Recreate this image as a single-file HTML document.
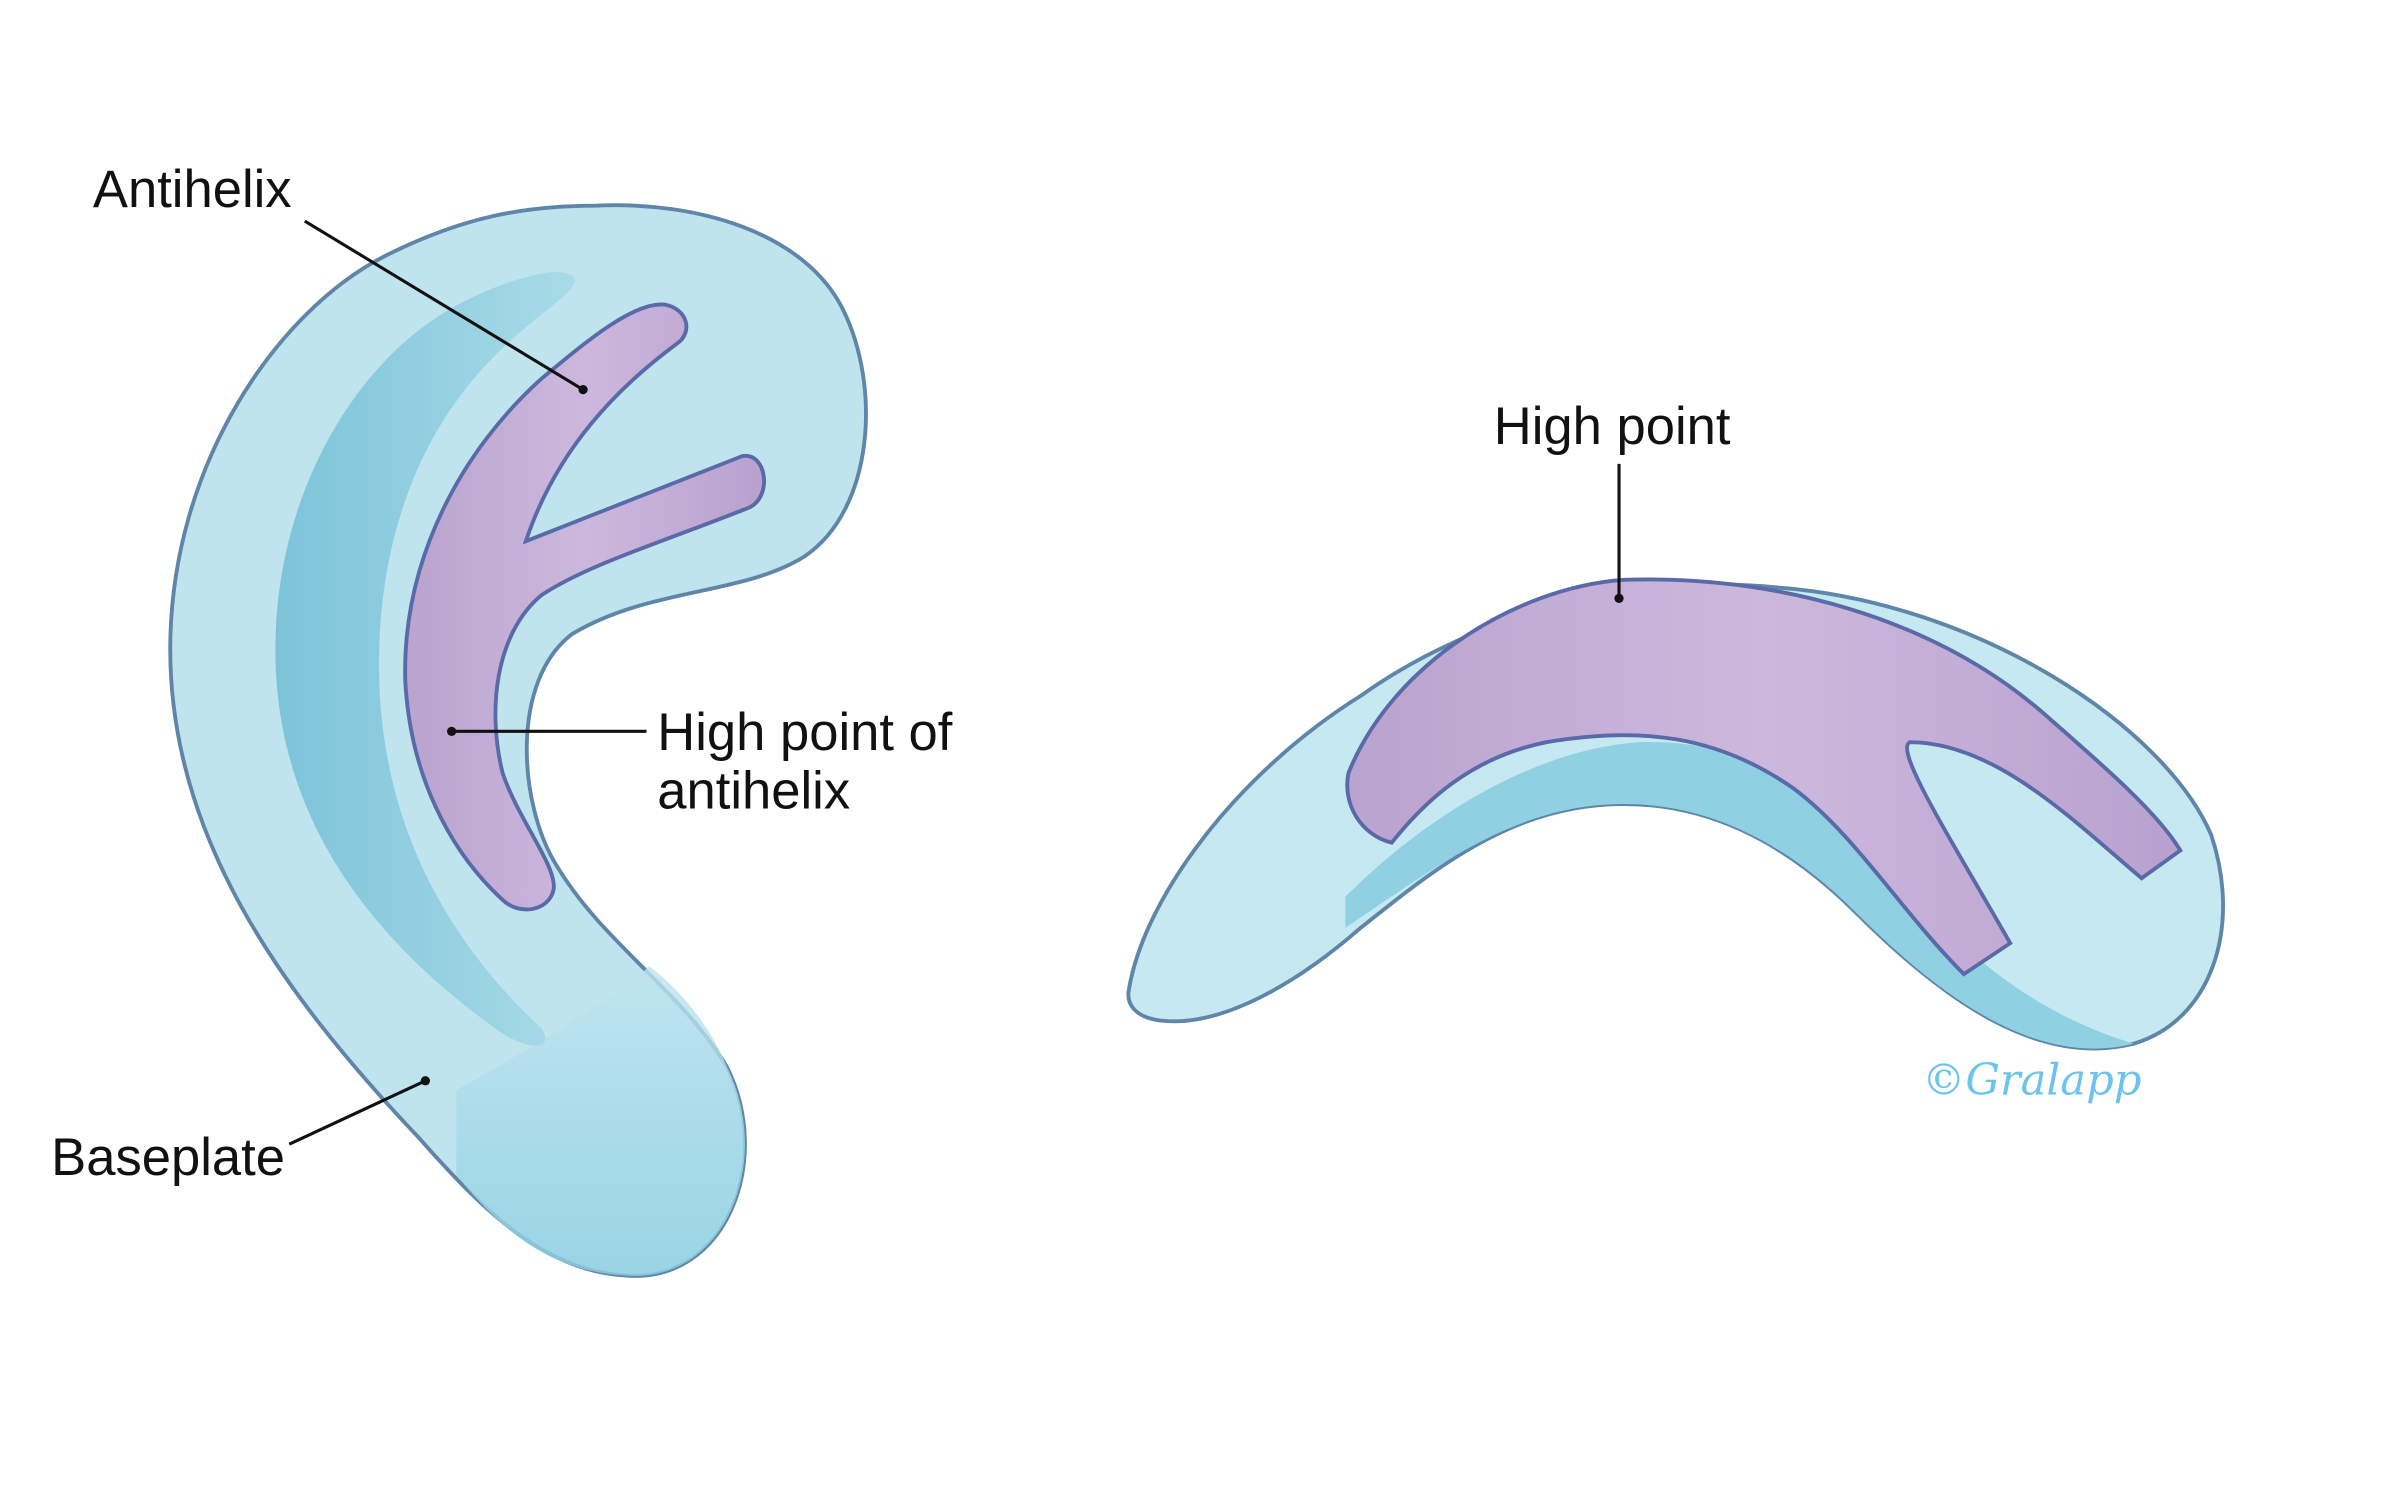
<!DOCTYPE html>
<html><head><style>html,body{margin:0;padding:0;background:#fff}svg{display:block}</style></head>
<body>
<svg width="2400" height="1506" viewBox="0 0 1552 974" xmlns="http://www.w3.org/2000/svg">
<defs>
<linearGradient id="lobe" x1="0" y1="0" x2="0" y2="1"><stop offset="0" stop-color="#bfe5ef"/><stop offset="1" stop-color="#8fd0e2"/></linearGradient>
<linearGradient id="groove" x1="0" y1="0" x2="1" y2="0"><stop offset="0" stop-color="#7cc3d9"/><stop offset="1" stop-color="#a9dbe8"/></linearGradient>
<linearGradient id="pur" x1="0" y1="0" x2="1" y2="0"><stop offset="0" stop-color="#b9a3cf"/><stop offset="0.5" stop-color="#cdb8dd"/><stop offset="1" stop-color="#b8a1cf"/></linearGradient>
</defs>
<g font-family="Liberation Sans, sans-serif" font-size="34" fill="#111">
<path d="M385 133 C450 130 520 150 545 200 C570 250 565 330 520 360 C480 385 420 380 370 410 C330 440 335 520 360 560 C390 610 440 640 470 690 C500 750 470 830 405 825 C350 822 310 780 270 735 C180 640 110 540 110 420 C110 300 180 200 250 165 C300 140 340 133 385 133 Z" fill="#bfe4ee" stroke="#5f86a8" stroke-width="2.5"/>
<path d="M295 705 C340 680 390 650 420 625 C440 640 460 665 470 690 C500 750 470 830 405 825 C350 822 320 790 295 760 Z" fill="url(#lobe)" opacity="0.8"/>
<path d="M370 178 C380 185 350 200 320 230 C270 280 245 350 245 430 C245 520 280 600 350 665 C360 680 340 680 320 665 C230 600 178 520 178 420 C178 320 230 230 300 195 C330 180 360 172 370 178 Z" fill="url(#groove)"/>
<path d="M430 197 C445 200 448 215 438 222 C400 250 360 290 340 350 L480 295 C495 292 500 320 485 328 C430 350 380 365 350 385 C320 410 315 460 325 500 C335 530 360 560 358 575 C355 590 335 592 325 582 C290 550 265 500 262 440 C260 360 300 290 350 245 C380 220 410 195 430 197 Z" fill="url(#pur)" stroke="#5a6aa8" stroke-width="2.5"/>
<path d="M730 640 C740 580 800 500 880 450 C950 400 1050 370 1150 380 C1280 390 1400 470 1430 540 C1450 600 1430 660 1380 675 C1320 690 1260 650 1200 590 C1150 540 1100 520 1050 520 C980 520 930 560 880 600 C840 635 790 665 750 660 C735 658 728 650 730 640 Z" fill="#c6e8f0" stroke="#5f86a8" stroke-width="2.5"/>
<path d="M870 580 C920 530 990 485 1060 480 C1130 478 1180 510 1230 570 C1280 630 1330 660 1380 675 C1320 690 1260 650 1200 590 C1150 540 1100 520 1050 520 C980 520 930 560 870 600 Z" fill="#8fd0e2"/>
<path d="M872 500 C900 430 980 380 1050 375 C1150 372 1250 400 1320 460 C1360 495 1395 525 1410 550 L1385 568 C1340 530 1290 480 1235 480 C1225 485 1260 540 1300 610 L1270 630 C1230 590 1200 540 1160 510 C1110 475 1060 470 1000 480 C950 490 920 520 900 545 C880 540 868 520 872 500 Z" fill="url(#pur)" stroke="#5a6aa8" stroke-width="2.5"/>
<text x="60" y="134">Antihelix</text>
<line x1="197" y1="143" x2="377" y2="252" stroke="#111" stroke-width="2"/><circle cx="377" cy="252" r="3"/>
<text x="425" y="485">High point of</text>
<text x="425" y="523">antihelix</text>
<line x1="292" y1="473" x2="418" y2="473" stroke="#111" stroke-width="2"/><circle cx="292" cy="473" r="3"/>
<text x="33" y="760">Baseplate</text>
<line x1="187" y1="740" x2="275" y2="699" stroke="#111" stroke-width="2"/><circle cx="275" cy="699" r="3"/>
<text x="966" y="287">High point</text>
<line x1="1047" y1="300" x2="1047" y2="387" stroke="#111" stroke-width="2"/><circle cx="1047" cy="387" r="3"/>
<text x="1243" y="708" font-family="DejaVu Serif, serif" font-style="italic" font-size="28" fill="#6cc3ee">©Gralapp</text>
</g>
</svg>
</body></html>
